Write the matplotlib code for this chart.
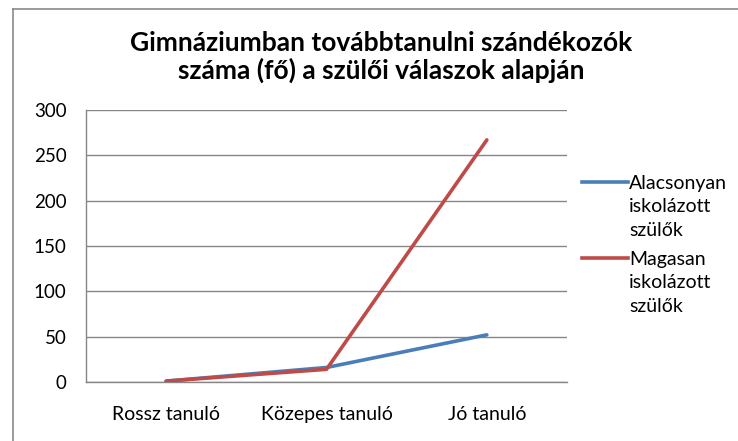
import matplotlib.pyplot as plt
from matplotlib.lines import Line2D

categories = ['Rossz tanuló', 'Közepes tanuló', 'Jó tanuló']
alacsony = [1, 16, 52]
magas = [1, 14, 267]
series_names = ['Alacsonyan\niskolázott\nszülők', 'Magasan\niskolázott\nszülők']
yticks = [0, 50, 100, 150, 200, 250, 300]

blue = '#4A7EBB'
red = '#BE4B48'
grid = '#868686'

plt.rcParams['font.family'] = ['Lato', 'DejaVu Sans']

fig = plt.figure(figsize=(7.38, 4.41), dpi=100)
ax = fig.add_axes([86 / 738, 59 / 441, 481 / 738, 272 / 441])

x = list(range(len(categories)))
ax.plot(x, alacsony, color=blue, lw=2.6, solid_capstyle='round', zorder=3)
ax.plot(x, magas, color=red, lw=2.6, solid_capstyle='round', zorder=4)

ax.set_xlim(-0.5, 2.5)
ax.set_ylim(0, 300)
ax.set_yticks(yticks)
ax.set_xticks(x)
ax.set_xticklabels(categories, fontsize=14)
ax.tick_params(axis='y', labelsize=13.5, length=0, pad=14)
ax.tick_params(axis='x', length=0, pad=17)
ax.yaxis.grid(True, color=grid, lw=1)
ax.set_axisbelow(True)
for s in ['top', 'right']:
    ax.spines[s].set_visible(False)
for s in ['left', 'bottom']:
    ax.spines[s].set_color(grid)
    ax.spines[s].set_linewidth(1)

# outer chart border (left and top only visible)
fig.add_artist(Line2D([13 / 738, 13 / 738], [0, 1 - 9 / 441], color='#8a8a8a', lw=1.2))
fig.add_artist(Line2D([13 / 738, 1], [1 - 9 / 441, 1 - 9 / 441], color='#8a8a8a', lw=1.2))

fig.text(381 / 738, 1 - 57 / 441, 'Gimnáziumban továbbtanulni szándékozók\nszáma (fő) a szülői válaszok alapján',
         ha='center', va='center', fontsize=19, fontweight='bold', linespacing=1.1)

# legend, one text per line to get Excel-like spacing
for name, col, ytop in [(series_names[0], blue, 182), (series_names[1], red, 258)]:
    fig.add_artist(Line2D([582 / 738, 628 / 738], [1 - ytop / 441] * 2, color=col, lw=2.6))
    for i, part in enumerate(name.split('\n')):
        fig.text(629 / 738, 1 - (ytop + 23.5 * i) / 441, part, ha='left', va='center_baseline',
                 fontsize=14)

fig.savefig('out.png', dpi=100)
